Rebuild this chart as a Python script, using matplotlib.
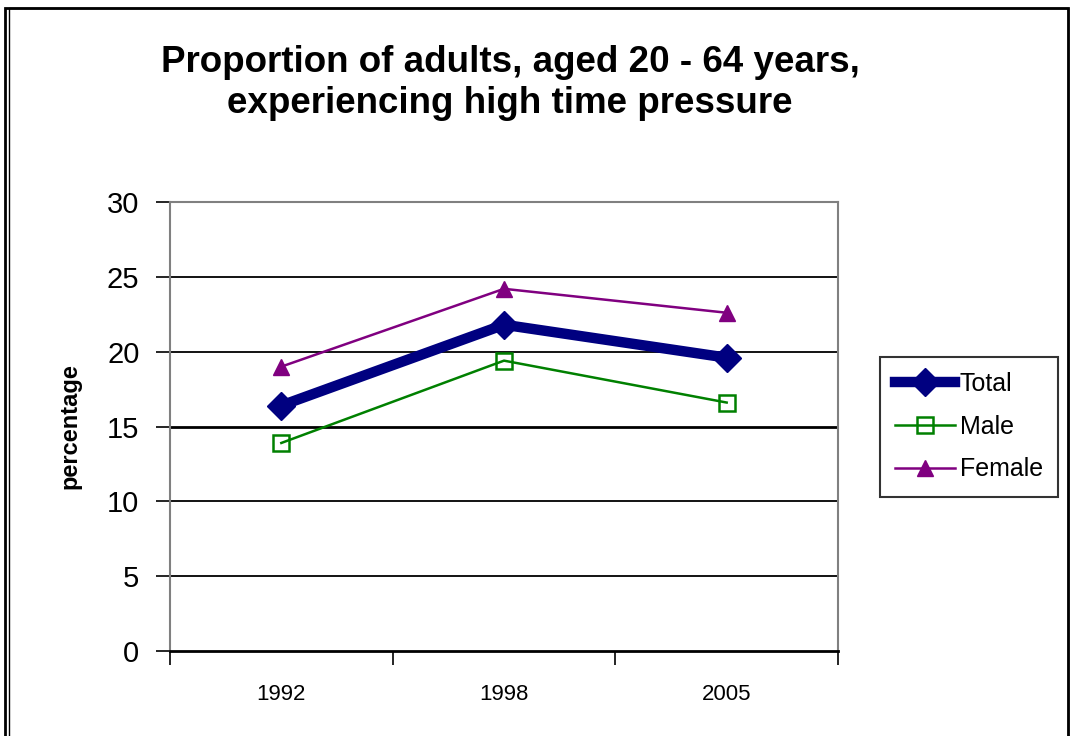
import numpy as np
import matplotlib
matplotlib.use('Agg')
import matplotlib.pyplot as plt
from matplotlib.patches import Rectangle

plt.rcParams['font.family'] = ['Liberation Sans', 'DejaVu Sans']

years = ['1992', '1998', '2005']
total = [16.4, 21.8, 19.6]
male = [13.9, 19.4, 16.6]
female = [19.0, 24.2, 22.6]

fig = plt.figure(figsize=(10.73, 7.36), dpi=100)
W, H = 1073, 736
ax = fig.add_axes([170 / W, 1 - 651 / H, (838 - 170) / W, (651 - 202) / H])

x = np.arange(len(years))
ax.plot(x, total, color='#000080', lw=7.5, marker='D', ms=14, label='Total', zorder=4)
ax.plot(x, male, color='#008000', lw=1.8, marker='s', ms=11, mfc='none', mew=1.8,
        label='Male', zorder=3)
ax.plot(x, female, color='#800080', lw=1.8, marker='^', ms=12, label='Female', zorder=3)

ax.set_xlim(-0.5, 2.5)
ax.set_ylim(0, 30)
ax.set_yticks(range(0, 31, 5))
ax.set_xticks([-0.5, 0.5, 1.5, 2.5])
ax.set_xticklabels([])
ax.set_xticks(x, minor=True)
ax.set_xticklabels(years, minor=True)
ax.tick_params(axis='x', which='minor', length=0, labelsize=16, pad=24)
ax.tick_params(axis='x', which='major', length=10, direction='out', width=1.2)
ax.tick_params(axis='y', length=10, width=1.2, labelsize=21, pad=12)
for yv in range(5, 31, 5):
    ax.axhline(yv, color='black', lw=1.3 if yv != 15 else 2, zorder=1)
for s in ['left', 'right', 'top']:
    ax.spines[s].set_color('#808080')
    ax.spines[s].set_linewidth(1.5)
ax.spines['bottom'].set_linewidth(2)
ax.set_ylabel('percentage', fontsize=17, fontweight='bold', labelpad=18)

fig.text(510 / W, 1 - 83 / H, 'Proportion of adults, aged 20 - 64 years,\nexperiencing high time pressure',
         ha='center', va='center', fontsize=26.5, fontweight='bold', linespacing=1.2)

leg = ax.legend(loc='upper left', bbox_to_anchor=(880 / W, 1 - 357 / H), bbox_transform=fig.transFigure,
                fontsize=18, frameon=True, fancybox=False, edgecolor='black', borderpad=0.6,
                handlelength=2.4, handletextpad=0.2, labelspacing=0.75, borderaxespad=0)
leg.get_frame().set_linewidth(1.5)

# outer chart frame
fig.patches.append(Rectangle((5 / W, -0.01), (1068 - 5) / W, 1 - 8 / H + 0.01, transform=fig.transFigure,
                             fill=False, edgecolor='black', lw=2))
fig.patches.append(Rectangle((9 / W, -0.01), (1068 - 9) / W, 1 - 8 / H + 0.01, transform=fig.transFigure,
                             fill=False, edgecolor='black', lw=1))

fig.savefig('out.png', dpi=100)
